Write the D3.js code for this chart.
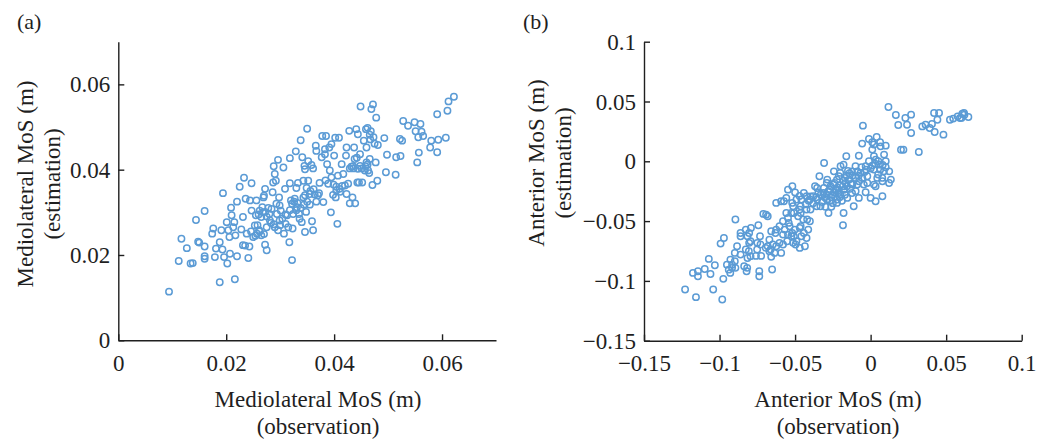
<!DOCTYPE html>
<html>
<head>
<meta charset="utf-8">
<script src="https://cdn.jsdelivr.net/npm/d3@7"></script>
<style>
  html, body { margin: 0; padding: 0; background: #fff; }
  svg { display: block; }
  .tick text, .label { font-family: "Liberation Serif", "Times New Roman", serif; fill: #1f1f1f; }
</style>
</head>
<body>
<svg id="chart" width="1049" height="442"></svg>
<script>
// Mediolateral margin of stability: [observation, estimation] in metres
const mediolateral = [
  [0.0094,0.0114],[0.0112,0.0186],[0.0117,0.0238],[0.0127,0.0216],[0.0134,0.0180],[0.0138,0.0181],[0.0144,0.0282],[0.0148,0.0231],
  [0.0150,0.0229],[0.0160,0.0303],[0.0160,0.0220],[0.0160,0.0197],[0.0160,0.0191],[0.0174,0.0250],[0.0176,0.0262],[0.0179,0.0195],
  [0.0181,0.0215],[0.0188,0.0136],[0.0188,0.0230],[0.0191,0.0258],[0.0193,0.0213],[0.0194,0.0345],[0.0196,0.0195],[0.0201,0.0277],
  [0.0202,0.0180],[0.0204,0.0258],[0.0206,0.0242],[0.0207,0.0203],[0.0209,0.0311],[0.0210,0.0293],[0.0213,0.0265],[0.0215,0.0277],
  [0.0216,0.0143],[0.0217,0.0246],[0.0220,0.0325],[0.0220,0.0197],[0.0225,0.0360],[0.0228,0.0260],[0.0231,0.0223],[0.0231,0.0289],
  [0.0233,0.0381],[0.0235,0.0222],[0.0236,0.0332],[0.0238,0.0250],[0.0241,0.0193],[0.0243,0.0220],[0.0244,0.0328],[0.0247,0.0368],
  [0.0247,0.0304],[0.0250,0.0242],[0.0253,0.0269],[0.0255,0.0293],[0.0256,0.0328],[0.0257,0.0250],[0.0261,0.0258],[0.0262,0.0304],
  [0.0265,0.0289],[0.0265,0.0246],[0.0267,0.0312],[0.0269,0.0335],[0.0270,0.0339],[0.0272,0.0355],[0.0272,0.0301],[0.0272,0.0224],
  [0.0275,0.0211],[0.0275,0.0265],[0.0278,0.0310],[0.0281,0.0281],[0.0284,0.0308],[0.0286,0.0347],[0.0287,0.0370],[0.0288,0.0408],
  [0.0288,0.0272],[0.0290,0.0390],[0.0292,0.0374],[0.0293,0.0320],[0.0294,0.0296],[0.0296,0.0423],[0.0296,0.0258],[0.0298,0.0335],
  [0.0299,0.0281],[0.0301,0.0304],[0.0304,0.0285],[0.0306,0.0405],[0.0307,0.0250],[0.0309,0.0355],[0.0310,0.0273],[0.0313,0.0293],
  [0.0315,0.0265],[0.0317,0.0230],[0.0318,0.0427],[0.0318,0.0368],[0.0320,0.0328],[0.0322,0.0320],[0.0322,0.0188],[0.0323,0.0262],
  [0.0324,0.0296],[0.0327,0.0332],[0.0329,0.0443],[0.0330,0.0357],[0.0331,0.0312],[0.0333,0.0369],[0.0335,0.0296],[0.0336,0.0285],
  [0.0338,0.0469],[0.0340,0.0277],[0.0341,0.0429],[0.0343,0.0335],[0.0344,0.0318],[0.0345,0.0409],[0.0346,0.0254],[0.0348,0.0301],
  [0.0349,0.0357],[0.0350,0.0496],[0.0350,0.0325],[0.0352,0.0420],[0.0352,0.0374],[0.0355,0.0318],[0.0358,0.0411],[0.0359,0.0279],
  [0.0361,0.0258],[0.0361,0.0403],[0.0364,0.0342],[0.0366,0.0456],[0.0367,0.0444],[0.0367,0.0325],[0.0370,0.0340],[0.0373,0.0369],
  [0.0377,0.0429],[0.0378,0.0479],[0.0380,0.0324],[0.0383,0.0436],[0.0385,0.0479],[0.0387,0.0413],[0.0389,0.0367],[0.0391,0.0452],
  [0.0392,0.0398],[0.0394,0.0300],[0.0395,0.0460],[0.0398,0.0341],[0.0400,0.0433],[0.0402,0.0475],[0.0403,0.0335],[0.0406,0.0273],
  [0.0407,0.0386],[0.0409,0.0475],[0.0410,0.0355],[0.0414,0.0413],[0.0417,0.0390],[0.0420,0.0363],[0.0422,0.0433],[0.0423,0.0343],
  [0.0426,0.0367],[0.0428,0.0491],[0.0429,0.0403],[0.0429,0.0321],[0.0432,0.0407],[0.0434,0.0335],[0.0436,0.0403],[0.0437,0.0452],
  [0.0439,0.0321],[0.0441,0.0495],[0.0442,0.0428],[0.0443,0.0370],[0.0444,0.0483],[0.0446,0.0370],[0.0448,0.0436],[0.0449,0.0548],
  [0.0451,0.0403],[0.0452,0.0370],[0.0455,0.0468],[0.0457,0.0398],[0.0459,0.0495],[0.0460,0.0452],[0.0460,0.0417],[0.0462,0.0498],
  [0.0463,0.0398],[0.0465,0.0392],[0.0466,0.0425],[0.0467,0.0471],[0.0469,0.0542],[0.0471,0.0364],[0.0472,0.0553],[0.0473,0.0476],
  [0.0475,0.0461],[0.0477,0.0417],[0.0478,0.0522],[0.0480,0.0374],[0.0481,0.0458],[0.0493,0.0474],[0.0496,0.0394],[0.0498,0.0435],
  [0.0514,0.0388],[0.0515,0.0429],[0.0522,0.0472],[0.0523,0.0432],[0.0526,0.0468],[0.0528,0.0514],[0.0537,0.0503],[0.0549,0.0511],
  [0.0551,0.0490],[0.0554,0.0417],[0.0556,0.0476],[0.0557,0.0440],[0.0560,0.0507],[0.0562,0.0489],[0.0565,0.0479],[0.0578,0.0452],
  [0.0580,0.0468],[0.0591,0.0530],[0.0591,0.0441],[0.0593,0.0470],[0.0607,0.0475],[0.0610,0.0538],[0.0612,0.0560],[0.0622,0.0571],
  [0.0343,0.0374],[0.0355,0.0343],[0.0383,0.0448],[0.0395,0.0382],[0.0404,0.0351],[0.0438,0.0425],[0.0448,0.0409],[0.0423,0.0452],
  [0.0299,0.0316],[0.0346,0.0401],[0.0260,0.0295],[0.0268,0.0300],[0.0275,0.0290],[0.0280,0.0296],[0.0258,0.0270],[0.0246,0.0255],
  [0.0254,0.0245],[0.0262,0.0255],[0.0270,0.0249],[0.0283,0.0275],[0.0290,0.0265],[0.0300,0.0270],[0.0310,0.0295],[0.0318,0.0305],
  [0.0326,0.0325],[0.0332,0.0322],[0.0330,0.0305],[0.0338,0.0310],[0.0346,0.0340],[0.0356,0.0350],[0.0362,0.0354],[0.0372,0.0345],
  [0.0384,0.0375],[0.0399,0.0365],[0.0404,0.0360],[0.0411,0.0348],[0.0415,0.0362],[0.0435,0.0408],[0.0444,0.0402],[0.0458,0.0408],
  [0.0462,0.0412],[0.0468,0.0490],[0.0466,0.0482]
];

// Anterior margin of stability: [observation, estimation] in metres
const anterior = [
  [0.0118,0.0454],[0.0167,0.0387],[0.0183,0.0304],[0.0230,0.0362],[0.0241,0.0306],[0.0268,0.0390],[0.0268,0.0237],[0.0201,0.0097],
  [0.0217,0.0097],[0.0319,0.0078],[0.0342,0.0292],[0.0364,0.0306],[0.0391,0.0279],[0.0406,0.0312],[0.0420,0.0404],[0.0424,0.0245],
  [0.0442,0.0348],[0.0453,0.0404],[0.0482,0.0223],[0.0525,0.0348],[0.0547,0.0357],[0.0576,0.0376],[0.0592,0.0362],[0.0607,0.0398],
  [0.0621,0.0390],[0.0647,0.0370],[0.0601,0.0363],[0.0618,0.0405],
  [-0.0051,0.0298],[-0.0078,0.0047],[-0.0011,0.0187],[0.0040,0.0203],[-0.0056,0.0148],[0.0011,0.0159],[0.0063,0.0159],[0.0100,0.0131],
  [0.0089,0.0056],[0.0022,0.0042],[-0.0011,0.0000],[0.0051,0.0000],[0.0100,0.0000],[0.0011,-0.0036],[-0.0033,-0.0042],[0.0063,-0.0070],
  [0.0123,-0.0084],[0.0134,-0.0153],[0.0078,-0.0167],[0.0022,-0.0195],[-0.0022,-0.0125],[-0.0067,-0.0097],[-0.0100,-0.0042],[-0.0123,-0.0084],
  [-0.0161,0.0042],[-0.0179,-0.0028],[-0.0201,-0.0097],[-0.0223,-0.0153],[-0.0246,-0.0195],[-0.0308,-0.0014],[-0.0339,-0.0125],[-0.0313,-0.0265],
  [-0.0290,-0.0320],[-0.0279,-0.0432],[-0.0223,-0.0348],[-0.0179,-0.0432],[-0.0183,-0.0535],[-0.0112,-0.0376],[-0.0078,-0.0306],[-0.0033,-0.0259],
  [0.0033,-0.0334],[0.0078,-0.0292],[-0.0156,-0.0209],[-0.0123,-0.0265],[-0.0089,-0.0195],[-0.0212,-0.0265],[-0.0268,-0.0237],[-0.0368,-0.0209],
  [-0.0379,-0.0292],[-0.0357,-0.0376],[-0.0402,-0.0320],[-0.0424,-0.0292],[-0.0458,-0.0320],[-0.0491,-0.0320],[-0.0518,-0.0209],[-0.0547,-0.0237],
  [-0.0592,-0.0334],[-0.0625,-0.0348],[-0.0558,-0.0306],[-0.0513,-0.0376],[-0.0469,-0.0404],[-0.0424,-0.0404],[-0.0402,-0.0501],[-0.0446,-0.0487],
  [-0.0480,-0.0460],[-0.0525,-0.0432],[-0.0558,-0.0432],[-0.0547,-0.0474],[-0.0580,-0.0501],[-0.0603,-0.0543],[-0.0569,-0.0571],[-0.0536,-0.0543],
  [-0.0502,-0.0571],[-0.0469,-0.0557],[-0.0413,-0.0571],[-0.0458,-0.0627],[-0.0424,-0.0641],[-0.0525,-0.0627],[-0.0547,-0.0613],[-0.0580,-0.0613],
  [-0.0625,-0.0571],[-0.0658,-0.0585],[-0.0670,-0.0655],[-0.0647,-0.0696],[-0.0625,-0.0710],[-0.0603,-0.0682],[-0.0580,-0.0696],[-0.0681,-0.0710],
  [-0.0670,-0.0752],[-0.0636,-0.0766],[-0.0592,-0.0766],[-0.0658,-0.0799],[-0.0513,-0.0682],[-0.0469,-0.0724],[-0.0435,-0.0710],[-0.0491,-0.0669],
  [-0.0652,-0.0905],[-0.0692,-0.0446],[-0.0710,-0.0440],[-0.0681,-0.0460],[-0.0743,-0.0535],[-0.0732,-0.0627],[-0.0750,-0.0682],[-0.0725,-0.0791],
  [-0.0759,-0.0791],[-0.0737,-0.0919],[-0.0737,-0.0961],[-0.0792,-0.0557],[-0.0804,-0.0599],[-0.0826,-0.0571],[-0.0815,-0.0627],[-0.0804,-0.0682],
  [-0.0826,-0.0738],[-0.0815,-0.0808],[-0.0837,-0.0877],[-0.0821,-0.0919],[-0.0861,-0.0627],[-0.0884,-0.0710],[-0.0895,-0.0487],[-0.0899,-0.0766],
  [-0.0899,-0.0836],[-0.0917,-0.0891],[-0.0929,-0.0933],[-0.0951,-0.0864],[-0.0971,-0.0641],[-0.0993,-0.0688],[-0.0975,-0.0983],
  [-0.0982,-0.1156],[-0.1031,-0.0869],[-0.1042,-0.1072],[-0.1060,-0.0942],[-0.1071,-0.0816],[-0.1098,-0.0900],[-0.1143,-0.0919],[-0.1143,-0.0961],
  [-0.1176,-0.0933],[-0.1156,-0.1136],[-0.1228,-0.1072],
  [0.0022,0.0140],[0.0066,0.0125],[0.0011,0.0098],[0.0034,0.0014],[0.0055,-0.0028],[0.0022,-0.0069],[0.0088,-0.0084],[0.0122,-0.0181],
  [0.0077,-0.0139],[0.0044,-0.0139],[-0.0055,-0.0139],[-0.0088,-0.0084],[-0.0077,-0.0167],[-0.0022,-0.0181],[0.0033,-0.0209],[-0.0121,-0.0195],
  [-0.0166,-0.0181],[-0.0177,-0.0237],[-0.0155,-0.0306],[-0.0221,-0.0320],[-0.0210,-0.0125],[-0.0243,-0.0084],[-0.0199,-0.0042],[-0.0287,-0.0153],
  [-0.0265,-0.0209],[-0.0354,-0.0223],[-0.0398,-0.0293],[-0.0442,-0.0265],[-0.0463,-0.0376],[-0.0398,-0.0404],[-0.0332,-0.0376],[-0.0354,-0.0320],
  [-0.0420,-0.0487],[-0.0463,-0.0543],[-0.0442,-0.0599],[-0.0508,-0.0627],[-0.0497,-0.0696],[-0.0232,-0.0237],[-0.0309,-0.0223],[-0.0254,-0.0278],
  [-0.0199,-0.0278],[-0.0144,-0.0153],[-0.0099,-0.0251],[-0.0045,-0.0195],[0.0000,-0.0306],
  [-0.0574,-0.0334],[-0.0519,-0.0348],[-0.0508,-0.0432],[-0.0463,-0.0432],[-0.0542,-0.0515],[-0.0630,-0.0599],[-0.0519,-0.0599],[-0.0552,-0.0669],
  [-0.0662,-0.0738],[-0.0795,-0.0793],[-0.0694,-0.0724],[-0.0729,-0.0696],[-0.0751,-0.0738],[-0.0806,-0.0752],[-0.0795,-0.0669],[-0.0861,-0.0599],
  [-0.0928,-0.0822],[-0.0895,-0.0891],[-0.0817,-0.0891],[-0.0861,-0.0780],[-0.0917,-0.0864],[-0.0939,-0.0906],
  [-0.0280,-0.0250],[-0.0260,-0.0300],[-0.0240,-0.0260],[-0.0200,-0.0200],[-0.0180,-0.0160],[-0.0160,-0.0120],[-0.0140,-0.0100],[-0.0250,-0.0350],
  [-0.0300,-0.0380],[-0.0330,-0.0280],[-0.0290,-0.0180],[-0.0220,-0.0220],[-0.0190,-0.0330],[-0.0130,-0.0190],[-0.0100,-0.0140],[-0.0060,-0.0050],
  [-0.0040,-0.0090],[0.0000,-0.0060],[0.0050,-0.0110],[0.0100,-0.0050],[-0.0380,-0.0350],[-0.0430,-0.0360],[-0.0470,-0.0290],[-0.0500,-0.0260],
  [-0.0270,-0.0330],[-0.0235,-0.0295],[-0.0210,-0.0240],[-0.0185,-0.0210],[-0.0170,-0.0140],[-0.0150,-0.0080],[-0.0120,-0.0120],[-0.0260,-0.0380],
  [-0.0305,-0.0300],[-0.0320,-0.0340],[-0.0345,-0.0260],[-0.0240,-0.0180],[-0.0205,-0.0300],[-0.0170,-0.0280],[-0.0135,-0.0230],[-0.0080,-0.0120],
  [-0.0030,-0.0070],[0.0030,-0.0020],[0.0080,-0.0030],[-0.0410,-0.0330],[-0.0360,-0.0300],[-0.0290,-0.0280]
];

// Tick values and their labels
const mlTicks = [0, 0.02, 0.04, 0.06];
const mlTickLabels = ["0", "0.02", "0.04", "0.06"];
const apTicks = [-0.15, -0.1, -0.05, 0, 0.05, 0.1];
const apTickLabels = ["\u22120.15", "\u22120.1", "\u22120.05", "0", "0.05", "0.1"];

const panels = [
  {
    tag: "(a)", tagX: 17,
    data: mediolateral,
    domain: [0, 0.07], ticks: mlTicks, tickLabels: mlTickLabels,
    left: 118.3, right: 496, top: 41.7, bottom: 340.3,
    xTitle: ["Mediolateral MoS (m)", "(observation)"], xTitleX: 318,
    yTitle: ["Mediolateral MoS (m)", "(estimation)"], yTitleX: 33, yTitleY: 184
  },
  {
    tag: "(b)", tagX: 523,
    data: anterior,
    domain: [-0.15, 0.1], ticks: apTicks, tickLabels: apTickLabels,
    left: 644, right: 1021.7, top: 41.7, bottom: 340.7,
    xTitle: ["Anterior MoS (m)", "(observation)"], xTitleX: 838,
    yTitle: ["Anterior MoS (m)", "(estimation)"], yTitleX: 543.5, yTitleY: 163
  }
];

const svg = d3.select("#chart");
const ink = "#1f1f1f";
const marker = "#5b9bd5";
const fontSize = 23;

panels.forEach(p => {
  const x = d3.scaleLinear().domain(p.domain).range([p.left, p.right]);
  const y = d3.scaleLinear().domain(p.domain).range([p.bottom, p.top]);
  const fmt = v => p.tickLabels[p.ticks.indexOf(v)];

  const g = svg.append("g");

  // scatter markers (open circles)
  g.append("g")
    .selectAll("circle")
    .data(p.data)
    .join("circle")
    .attr("cx", d => x(d[0]))
    .attr("cy", d => y(d[1]))
    .attr("r", 3.2)
    .attr("fill", "none")
    .attr("stroke", marker)
    .attr("stroke-width", 1.5);

  // axes with inward ticks
  const xAxis = d3.axisBottom(x).tickValues(p.ticks).tickFormat(fmt)
    .tickSizeInner(-6).tickSizeOuter(0).tickPadding(14);
  const yAxis = d3.axisLeft(y).tickValues(p.ticks).tickFormat(fmt)
    .tickSizeInner(-6).tickSizeOuter(0).tickPadding(8);

  const gx = g.append("g").attr("transform", `translate(0,${p.bottom})`).call(xAxis);
  const gy = g.append("g").attr("transform", `translate(${p.left},0)`).call(yAxis);

  [gx, gy].forEach(a => {
    a.select(".domain").attr("stroke", ink).attr("stroke-width", 1.4);
    a.selectAll(".tick line").attr("stroke", ink).attr("stroke-width", 1.4);
    a.selectAll(".tick text")
      .attr("font-family", "'Liberation Serif', 'Times New Roman', serif")
      .attr("font-size", fontSize)
      .attr("fill", ink);
  });
  gy.selectAll(".tick text").attr("dy", "0.33em");

  // x-axis title (two lines)
  const xt = g.append("text").attr("class", "label")
    .attr("text-anchor", "middle")
    .attr("font-size", fontSize);
  xt.append("tspan").attr("x", p.xTitleX).attr("y", 407).text(p.xTitle[0]);
  xt.append("tspan").attr("x", p.xTitleX).attr("y", 434).text(p.xTitle[1]);

  // y-axis title (two lines, rotated)
  p.yTitle.forEach((line, i) => {
    g.append("text").attr("class", "label")
      .attr("text-anchor", "middle")
      .attr("font-size", fontSize)
      .attr("transform", `translate(${p.yTitleX + i * 27},${p.yTitleY}) rotate(-90)`)
      .text(line);
  });

  // panel tag
  g.append("text").attr("class", "label")
    .attr("x", p.tagX).attr("y", 29)
    .attr("font-size", 22)
    .text(p.tag);
});
</script>
</body>
</html>
